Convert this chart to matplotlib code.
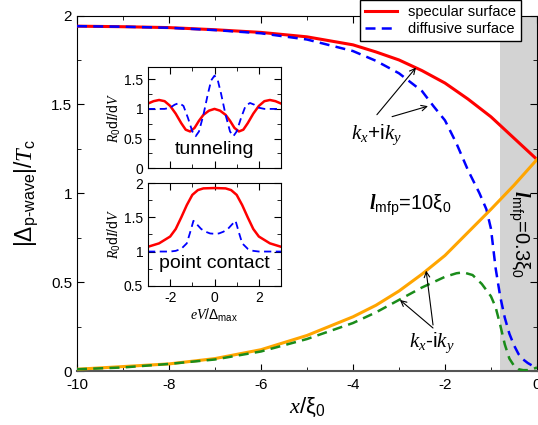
import numpy as np
import matplotlib
matplotlib.use("Agg")
import matplotlib.pyplot as plt
from matplotlib.ticker import MultipleLocator

plt.rcParams['font.family'] = ['Liberation Sans', 'DejaVu Sans']
plt.rcParams['mathtext.fontset'] = 'custom'
plt.rcParams['mathtext.rm'] = 'Liberation Sans'
plt.rcParams['mathtext.it'] = 'Liberation Serif:italic'
plt.rcParams['mathtext.bf'] = 'Liberation Serif:italic:bold'
plt.rcParams['axes.unicode_minus'] = False

# --- main panel: |Delta| vs x/xi0 ---
x_spec_p = [-10, -9, -8, -7, -6, -5, -4, -3.5, -3, -2.5, -2, -1.5, -1, -0.5, 0]
y_spec_p = [1.94, 1.937, 1.932, 1.92, 1.905, 1.88, 1.835, 1.795, 1.75, 1.69, 1.62, 1.53, 1.43, 1.31, 1.19]

x_diff_p = [-10, -9, -8, -7, -6, -5, -4, -3.5, -3, -2.5, -2.25, -2, -1.75, -1.5, -1.25, -1.1, -1,
            -0.9, -0.8, -0.7, -0.6, -0.5, -0.4, -0.3, -0.2, -0.1, 0]
y_diff_p = [1.94, 1.937, 1.931, 1.918, 1.9, 1.865, 1.80, 1.745, 1.675, 1.575, 1.49, 1.41, 1.28, 1.13,
            1.00, 0.91, 0.80, 0.58, 0.42, 0.30, 0.21, 0.145, 0.095, 0.065, 0.045, 0.03, 0.02]

x_spec_m = [-10, -9, -8, -7, -6, -5, -4, -3.5, -3, -2.5, -2, -1.5, -1, -0.5, 0]
y_spec_m = [0.01, 0.025, 0.04, 0.07, 0.12, 0.20, 0.305, 0.37, 0.45, 0.545, 0.65, 0.78, 0.91, 1.045, 1.19]

x_diff_m = [-10, -9, -8, -7, -6, -5, -4, -3.5, -3, -2.5, -2, -1.75, -1.6, -1.4, -1.2, -1, -0.9, -0.8,
            -0.7, -0.6, -0.5, -0.4, -0.3, -0.2, -0.1, 0]
y_diff_m = [0.01, 0.02, 0.04, 0.065, 0.11, 0.18, 0.27, 0.33, 0.40, 0.47, 0.53, 0.55, 0.555, 0.54, 0.49,
            0.42, 0.36, 0.26, 0.15, 0.07, 0.03, 0.01, 0.005, 0.005, 0.01, 0.02]

# --- inset: tunneling ---
ev_tun_s = [-3, -2.75, -2.5, -2.25, -2, -1.75, -1.5, -1.3, -1.1, -0.9, -0.7, -0.5, -0.25, 0,
            0.25, 0.5, 0.7, 0.9, 1.1, 1.3, 1.5, 1.75, 2, 2.25, 2.5, 2.75, 3]
g_tun_s = [1.09, 1.13, 1.15, 1.13, 1.05, 0.92, 0.76, 0.65, 0.62, 0.68, 0.80, 0.90, 0.97, 1.0,
           0.97, 0.90, 0.80, 0.68, 0.62, 0.65, 0.76, 0.92, 1.05, 1.13, 1.15, 1.13, 1.09]
ev_tun_d = [-3, -2.25, -2, -1.8, -1.6, -1.4, -1.2, -1.0, -0.85, -0.7, -0.5, -0.3, -0.15, 0,
            0.15, 0.3, 0.5, 0.7, 0.85, 1.0, 1.2, 1.4, 1.6, 1.8, 2, 2.25, 3]
g_tun_d = [1.0, 1.0, 1.02, 1.07, 1.10, 1.05, 0.85, 0.62, 0.54, 0.62, 0.90, 1.25, 1.48, 1.56,
           1.48, 1.25, 0.90, 0.62, 0.54, 0.62, 0.85, 1.05, 1.10, 1.07, 1.02, 1.0, 1.0]

# --- inset: point contact ---
ev_pc_s = [-3, -2.5, -2, -1.75, -1.5, -1.25, -1, -0.75, -0.5, 0, 0.5, 0.75, 1, 1.25, 1.5, 1.75, 2, 2.5, 3]
g_pc_s = [1.07, 1.12, 1.22, 1.33, 1.50, 1.68, 1.83, 1.90, 1.925, 1.93, 1.925, 1.90, 1.83, 1.68, 1.50,
          1.33, 1.22, 1.12, 1.07]
ev_pc_d = [-3, -2, -1.75, -1.5, -1.25, -1.1, -0.95, -0.8, -0.6, -0.4, -0.2, 0, 0.2, 0.4, 0.6, 0.8,
           0.95, 1.1, 1.25, 1.5, 1.75, 2, 3]
g_pc_d = [1.0, 1.0, 1.01, 1.04, 1.12, 1.28, 1.45, 1.40, 1.33, 1.29, 1.265, 1.26, 1.265, 1.29, 1.33,
          1.40, 1.45, 1.28, 1.12, 1.04, 1.01, 1.0, 1.0]

RED = '#ff0000'
BLUE = '#0000ff'
ORANGE = '#ffa500'
GREEN = '#1a8c1a'


def style_ticks(ax, size):
    ax.tick_params(which='both', direction='in', top=True, right=True, labelsize=size)
    ax.tick_params(which='major', length=5)
    ax.tick_params(which='minor', length=3)


fig = plt.figure(figsize=(5.38, 4.25), dpi=100)
ax = fig.add_axes([0.1431, 0.127, 0.855, 0.8365])

ax.axvspan(-0.8, 0, color='#d3d3d3', lw=0, zorder=0)
ax.plot(x_spec_p, y_spec_p, color=RED, lw=2.2, label='specular surface', zorder=3)
ax.plot(x_diff_p, y_diff_p, color=BLUE, lw=1.8, ls=(0, (4, 2.5)), label='diffusive surface', zorder=3)
ax.plot(x_spec_m, y_spec_m, color=ORANGE, lw=2.2, zorder=3)
ax.plot(x_diff_m, y_diff_m, color=GREEN, lw=1.8, ls=(0, (4, 2.5)), zorder=3)

ax.set_xlim(-10, 0)
ax.set_ylim(0, 2)
ax.xaxis.set_major_locator(MultipleLocator(2))
ax.xaxis.set_minor_locator(MultipleLocator(1))
ax.yaxis.set_minor_locator(MultipleLocator(0.25))
ax.set_yticks([0, 0.5, 1, 1.5, 2])
ax.set_yticklabels(['0', '0.5', '1', '1.5', '2'])
style_ticks(ax, 11)
ax.tick_params(axis='x', pad=5)
ax.spines['bottom'].set_color('#555555')
ax.spines['bottom'].set_linewidth(1.5)

ax.set_xlabel(r'$x/\mathrm{\xi}_0$', fontsize=16, labelpad=3)
ax.set_ylabel(r'$|\Delta_{\text{p-wave}}|/T_{\text{c}}$', fontsize=16.5, labelpad=8)

# annotations
arr = dict(arrowstyle='->', color='black', lw=0.8, shrinkA=0, shrinkB=0)
ax.annotate('', xy=(-2.63, 1.707), xytext=(-3.48, 1.442), arrowprops=arr)
ax.annotate('', xy=(-2.37, 1.49), xytext=(-3.15, 1.431), arrowprops=arr)
ax.text(-3.5, 1.33, r'$k_x\text{+i}k_y$', fontsize=15, ha='center', va='center')

ax.annotate('', xy=(-2.41, 0.565), xytext=(-2.26, 0.259), arrowprops=arr)
ax.annotate('', xy=(-2.98, 0.40), xytext=(-2.26, 0.242), arrowprops=arr)
ax.text(-2.28, 0.16, r'$k_x\text{-i}k_y$', fontsize=15, ha='center', va='center')

ax.text(-2.76, 0.93, r'$\mathbf{l}_{\text{mfp}}\text{=10}\mathrm{\xi}_0$', fontsize=14.5,
        ha='center', va='center')
ax.text(-0.41, 0.77, r'$\mathbf{l}_{\text{mfp}}\text{=0.3}\mathrm{\xi}_0$', fontsize=14.5,
        ha='center', va='center', rotation=-90)

leg = fig.legend(loc='upper right', bbox_to_anchor=(0.968, 0.999), borderaxespad=0,
                 fontsize=10.5, handlelength=2.2, handletextpad=0.8, labelspacing=0.25,
                 fancybox=False, framealpha=1, edgecolor='black', borderpad=0.3)
leg.get_frame().set_linewidth(1.0)

# insets
ax_t = fig.add_axes([0.2751, 0.604, 0.2472, 0.2376])
ax_t.plot(ev_tun_s, g_tun_s, color=RED, lw=1.8)
ax_t.plot(ev_tun_d, g_tun_d, color=BLUE, lw=1.3, ls=(0, (4, 2.5)))
ax_t.set_xlim(-3, 3)
ax_t.set_ylim(0, 1.7)
ax_t.xaxis.set_major_locator(MultipleLocator(2))
ax_t.xaxis.set_minor_locator(MultipleLocator(1))
ax_t.yaxis.set_minor_locator(MultipleLocator(0.25))
ax_t.set_yticks([0, 0.5, 1, 1.5])
ax_t.set_yticklabels(['0', '0.5', '1', '1.5'])
ax_t.set_xticklabels([])
style_ticks(ax_t, 10)
ax_t.set_ylabel(r'$R_0\text{d}I/\text{d}V$', fontsize=10, labelpad=1)
ax_t.text(0.5, 0.19, 'tunneling', transform=ax_t.transAxes, fontsize=14, ha='center', va='center')

ax_p = fig.add_axes([0.2751, 0.3278, 0.2472, 0.241])
ax_p.plot(ev_pc_s, g_pc_s, color=RED, lw=1.8)
ax_p.plot(ev_pc_d, g_pc_d, color=BLUE, lw=1.3, ls=(0, (4, 2.5)))
ax_p.set_xlim(-3, 3)
ax_p.set_ylim(0.5, 2)
ax_p.xaxis.set_major_locator(MultipleLocator(2))
ax_p.xaxis.set_minor_locator(MultipleLocator(1))
ax_p.yaxis.set_minor_locator(MultipleLocator(0.25))
ax_p.set_yticks([0.5, 1, 1.5, 2])
ax_p.set_yticklabels(['0.5', '1', '1.5', '2'])
style_ticks(ax_p, 10)
ax_p.set_ylabel(r'$R_0\text{d}I/\text{d}V$', fontsize=10, labelpad=1)
ax_p.set_xlabel(r'$eV/\Delta_{\text{max}}$', fontsize=10, labelpad=2)
ax_p.text(0.5, 0.22, 'point contact', transform=ax_p.transAxes, fontsize=14, ha='center', va='center')

fig.savefig('out.png', dpi=100)
